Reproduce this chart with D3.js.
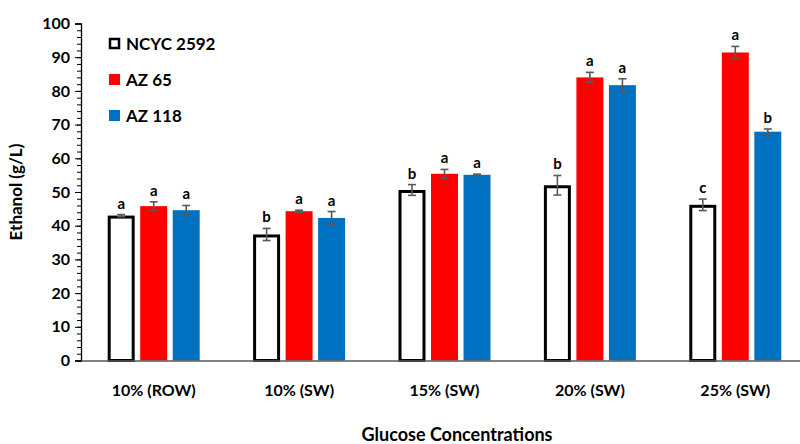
<!DOCTYPE html>
<html>
<head>
<meta charset="utf-8">
<script src="https://cdn.jsdelivr.net/npm/d3@7"></script>
<style>
  body { margin: 0; background: #fff; }
  svg text { font-family: Lato, "Open Sans", sans-serif; font-weight: bold; fill: #000; }
</style>
</head>
<body>
<svg id="chart" width="800" height="444"></svg>
<script>
var categories = ["10% (ROW)", "10% (SW)", "15% (SW)", "20% (SW)", "25% (SW)"];
var seriesNames = ["NCYC 2592", "AZ 65", "AZ 118"];

// mean ethanol (g/L) per strain
var ncyc = [43.0, 37.4, 50.6, 52.0, 46.2];
var az65 = [45.8, 44.3, 55.4, 84.0, 91.4];
var az118 = [44.6, 42.3, 55.1, 81.7, 67.9];

// error bar half-widths
var ncycErr = [0.3, 1.8, 1.6, 2.9, 1.7];
var az65Err = [1.3, 0.3, 1.3, 1.5, 1.8];
var az118Err = [1.4, 1.9, 0.2, 1.9, 0.8];

// significance letters
var ncycSig = ["a", "b", "b", "b", "c"];
var az65Sig = ["a", "a", "a", "a", "a"];
var az118Sig = ["a", "a", "a", "a", "b"];

var yTicks = [0, 10, 20, 30, 40, 50, 60, 70, 80, 90, 100];

var series = [
    { name: seriesNames[0], values: ncyc, err: ncycErr, sig: ncycSig, fill: "#fff", stroke: "#000" },
    { name: seriesNames[1], values: az65, err: az65Err, sig: az65Sig, fill: "#ff0000", stroke: "none" },
    { name: seriesNames[2], values: az118, err: az118Err, sig: az118Sig, fill: "#0070c0", stroke: "none" }
];

var svg = d3.select("#chart");
var plotLeft = 81, plotRight = 808, plotTop = 23.5, plotBottom = 360.5;
var groupWidth = 92;

var x = d3.scaleBand().domain(categories).range([plotLeft, plotRight]);
var xs = d3.scaleBand().domain(d3.range(series.length)).range([0, groupWidth]).paddingInner(0.17);
var y = d3.scaleLinear().domain([0, 100]).range([plotBottom, plotTop]);

// minor ticks every 2
var minor = svg.append("g").attr("transform", "translate(" + plotLeft + ",0)")
    .call(d3.axisLeft(y).tickValues(d3.range(0, 101, 2)).tickSize(4).tickFormat(""));
minor.select(".domain").remove();
minor.selectAll("line").attr("stroke", "#000");

var yAxis = svg.append("g").attr("transform", "translate(" + plotLeft + ",0)")
    .call(d3.axisLeft(y).tickValues(yTicks).tickSize(6).tickPadding(5));
yAxis.select(".domain").attr("stroke", "#000").attr("stroke-width", 1.3);
yAxis.selectAll("line").attr("stroke", "#000");
yAxis.selectAll("text").style("font-size", "16px");

// bars
series.forEach(function (s, si) {
    var g = svg.append("g");
    var bw = xs.bandwidth();
    var off = (x.bandwidth() - groupWidth) / 2 + xs(si);
    var isOutline = s.stroke !== "none";
    g.selectAll("rect").data(s.values).enter().append("rect")
        .attr("x", function (d, i) { return x(categories[i]) + off + (isOutline ? 1.5 : 0); })
        .attr("y", function (d) { return y(d) + (isOutline ? 1.5 : 0); })
        .attr("width", isOutline ? bw - 3 : bw)
        .attr("height", function (d) { return y(0) - y(d) - (isOutline ? 1.5 : 0); })
        .attr("fill", s.fill)
        .attr("stroke", s.stroke)
        .attr("stroke-width", isOutline ? 3 : 0);

    // error bars
    var eg = g.append("g").attr("stroke", "#595959").attr("stroke-width", 1.6);
    s.values.forEach(function (v, i) {
        var cx = x(categories[i]) + off + bw / 2;
        var e = s.err[i];
        eg.append("line").attr("x1", cx).attr("x2", cx).attr("y1", y(v + e)).attr("y2", y(v - e));
        eg.append("line").attr("x1", cx - 4).attr("x2", cx + 4).attr("y1", y(v + e)).attr("y2", y(v + e));
        eg.append("line").attr("x1", cx - 4).attr("x2", cx + 4).attr("y1", y(v - e)).attr("y2", y(v - e));
        g.append("text")
            .attr("x", cx)
            .attr("y", y(v + e) - 6)
            .attr("text-anchor", "middle")
            .style("font-size", "15px")
            .text(s.sig[i]);
    });
});

// x axis
var xAxis = svg.append("g").attr("transform", "translate(0," + plotBottom + ")")
    .call(d3.axisBottom(x).tickSize(0).tickPadding(24));
xAxis.select(".domain").attr("stroke", "#595959").attr("stroke-width", 1.5);
xAxis.selectAll("text").style("font-size", "16px");

// axis titles
svg.append("text")
    .attr("transform", "translate(22," + (plotTop + plotBottom) / 2 + ") rotate(-90)")
    .attr("text-anchor", "middle")
    .style("font-size", "17px")
    .text("Ethanol (g/L)");

svg.append("text")
    .attr("x", 457)
    .attr("y", 441)
    .attr("text-anchor", "middle")
    .style("font-size", "18px")
    .text("Glucose Concentrations");

// legend
var legend = svg.append("g");
series.forEach(function (s, i) {
    var ly = 44 + i * 36;
    var outline = s.stroke !== "none";
    legend.append("rect")
        .attr("x", outline ? 110 : 109).attr("y", outline ? ly - 5 : ly - 6)
        .attr("width", outline ? 9 : 11)
        .attr("height", outline ? 9 : 11)
        .attr("fill", s.fill)
        .attr("stroke", s.stroke)
        .attr("stroke-width", outline ? 2.5 : 0);
    legend.append("text")
        .attr("x", 126).attr("y", ly)
        .attr("dy", "0.35em")
        .style("font-size", "17px")
        .text(s.name);
});
</script>
</body>
</html>
